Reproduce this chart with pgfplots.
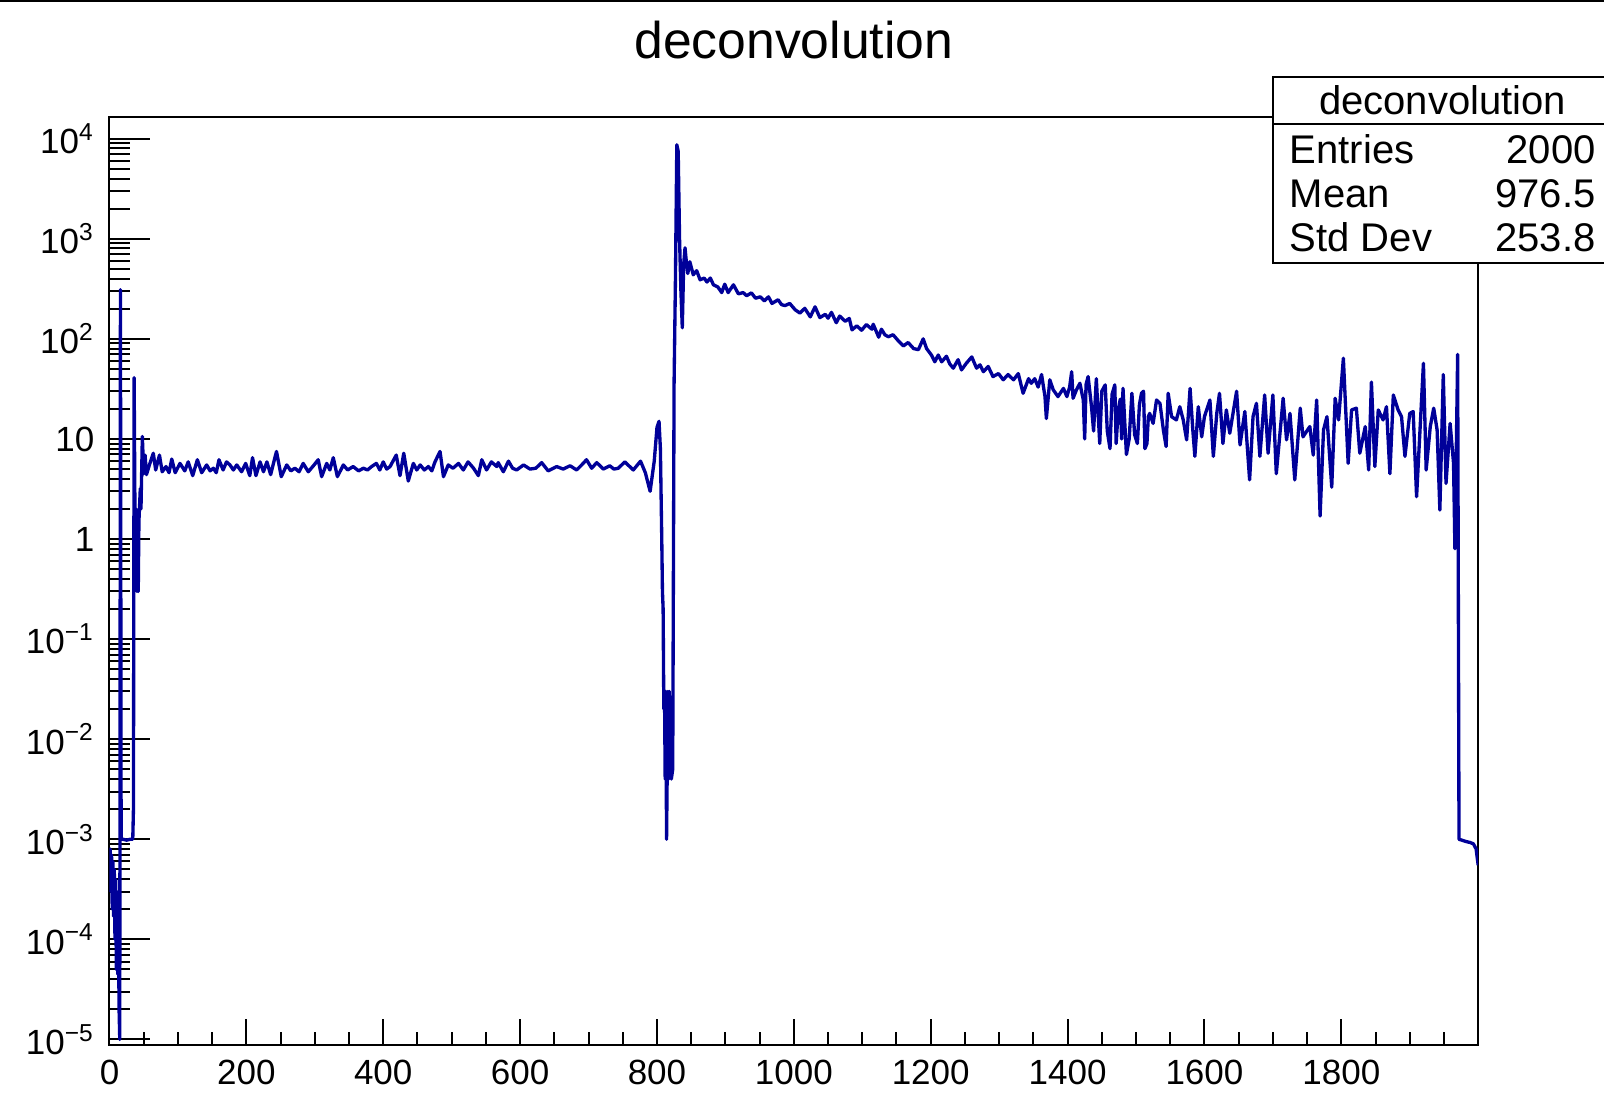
\documentclass[border=0pt]{standalone}
\usepackage{pgfplots}
\pgfplotsset{compat=1.18}
\usepackage{pgfplotstable}
\usepackage{fontspec}
\setmainfont{Liberation Sans}
\definecolor{rootblue}{RGB}{0,0,153}

\pgfplotstableread{
x y
0 6e-4
1 8e-4
2 3e-4
3 7e-4
4 2e-4
5 6e-4
6 1.7e-4
7 5e-4
8 1e-4
9 4e-4
10 5e-5
11 3e-4
12 4.5e-5
13 1.5e-4
14 2e-5
15 1e-5
16 310
17 1e-3
20 1e-3
25 9.8e-4
30 1e-3
34 1e-3
35 2e-3
36 41
37 3
38 0.6
39 2
40 0.3
41 1.2
42 0.3
43 1.5
45 3.2
46 2
48 10.6
50 4.5
52 6.9
54 4.4
59 5.7
64 7.2
67.5 4.9
73 6.9
77 4.7
82.6 5.3
87 4.6
91 6.3
96 4.6
103 5.7
110 4.8
115 5.9
121.6 4.3
128.4 6.2
134.7 4.6
142 5.5
147 4.8
151.8 5.1
156 4.6
160 6.2
166 4.9
171 5.9
176 5.5
181 4.9
186 5.5
193 4.7
199 5.7
205 4.3
209 6.5
214 4.3
220 5.9
225 4.7
230 5.9
235.5 4.4
244 7.5
251 4.2
259 5.5
265 4.8
271 5.1
277 4.7
283 5.7
290.5 4.7
298 5.4
305 6.2
310 4.2
317.4 5.7
322 4.9
327 6.5
333 4.2
341.7 5.5
348 4.9
356 5.3
364 4.8
371 5.1
377 4.9
383 5.3
390 5.7
395 4.9
400 5.9
405 5.0
410 5.3
419 6.9
424.5 4.3
430 7.2
436.6 3.8
444 5.7
449 4.9
454 5.5
460 4.9
466 5.3
471 4.8
475.6 5.9
483 7.5
488 4.2
495 5.5
502 5.1
510 5.7
517 4.9
524 5.9
532 5.1
539 4.3
544 6.2
551 4.9
558 5.9
566 5.3
568 5.8
575.5 4.7
583 6.0
589 5.1
595 4.9
605 5.5
614.5 5.0
623 5.1
631.5 5.8
641 4.8
653.4 5.3
663 5.0
673 5.4
682.6 4.9
690 5.5
697 6.2
704.6 5.1
712 5.8
721.6 5.0
731 5.4
737 5.0
743.5 5.1
753 5.9
765.4 4.9
776 6.0
783 4.6
790 3.0
796 6
800 13
803 15
805 8
807 1
808 0.3
809 0.2
810 0.02
811 0.03
812 0.004
813 0.03
814 0.001
815 0.005
816 0.03
817 0.004
818 0.03
819 0.006
821 0.004
823 0.005
825 36
827 400
829 8700
831 7500
833 1000
835 300
837 129
839 550
841 813
843 580
845 450
848 590
853 437
858 480
863 390
869 405
873 370
878 405
882.5 347
889 330
894.6 290
899 352
904 290
911.7 347
919 282
926 290
931 270
938 288
944 255
951 263
957 240
963 263
968 226
977 246
982 220
987 215
994 226
1002 195
1009 181
1016 202
1024 166
1031 209
1038 163
1046 176
1050 161
1055 184
1062 145
1067 169
1075 150
1081 160
1085 123
1092 135
1099 122
1106 139
1114 125
1116 140
1124 104
1128 125
1133 110
1138 105
1145 110
1153 95
1160 85
1167 92
1175 80
1182 78
1189 100
1194 80
1201 69
1206 59
1211 69
1216 59
1223 67
1228 56
1233 51
1240 62
1245 49
1252 57
1260 66
1267 51
1272 55
1277 47
1284 53
1291 42
1299 45
1306 39
1313 44
1321 39
1328 45
1335 28.6
1343 40
1347 36
1352 40
1357 33
1362 44
1367 26.5
1369 16
1374 39
1379 31
1386 26.5
1394 32
1399 26.5
1403 33
1406 47
1408 25.5
1413 31
1418 36
1423 24.5
1425 10
1427 35
1430 42
1435 21
1438 12
1442 40
1447 9
1450 30
1455 34.7
1458 12
1462 8
1465 28
1469 34.7
1471 9
1474 19.5
1477 25
1479 10
1481 32
1486 7
1490 10
1494 28.6
1498 11
1502 9
1505 22
1508 28.6
1511 30
1513 8
1516 9
1518 16.7
1520 18
1525 14.3
1530 24.5
1535 22.7
1540 12.3
1544 8.4
1547 28.6
1552 16.7
1559 15.5
1564 21
1569 15.5
1574 9.8
1579 32
1583 12.3
1586 6.7
1591 21
1596 10.5
1600 16.7
1608 24.5
1613 6.7
1618 18
1622 28.6
1627 9
1632 19.5
1637 11.4
1647 30
1652 8.7
1659 18.8
1666 3.9
1671 16.7
1676 22.7
1681 6.7
1688 27.5
1693 7.2
1700 27.5
1705 4.5
1715 25.5
1720 9.8
1725 18
1732 3.9
1740 20.3
1744 10.5
1754 13.3
1759 6.9
1764 24.5
1769 1.7
1774 12.3
1779 16.7
1786 3.3
1791 25.5
1796 15.5
1803 64
1810 5.7
1815 19.5
1822 20.3
1827 7.2
1835 13.3
1840 4.9
1844 37
1849 5.3
1854 19.5
1861 15.5
1866 21
1871 4.5
1876 27.5
1883 19.5
1888 16.7
1893 6.7
1900 18
1905 18.8
1910 2.65
1915 12.3
1920 57
1924 4.9
1930 13.3
1935 20.3
1940 12.3
1944 1.95
1949 44
1953 3.6
1959 14.3
1964 5.7
1966 0.8
1970 70
1972 0.001
1976 9.8e-4
1982 9.5e-4
1988 9.3e-4
1993 9e-4
1997 8e-4
2000 5.5e-4
}\deconv

\begin{document}
\begin{tikzpicture}
\useasboundingbox (-32.85pt,-15.15pt) rectangle (448.35pt,313.35pt);
\begin{axis}[
  at={(0,0)}, anchor=south west,
  scale only axis, width=410.6pt, height=278.1pt,
  xmin=0, xmax=2000,
  ymode=log, ymin=8.9e-6, ymax=1.63e4,
  axis line style={line width=0.6pt, black},
  tick align=inside,
  xtick pos=left, ytick pos=left,
  tick style={black, line width=0.6pt},
  xtick style={/pgfplots/major tick length=7.8pt, /pgfplots/minor tick length=3.9pt},
  ytick style={/pgfplots/major tick length=12pt, /pgfplots/minor tick length=6pt},
  xtick={0,200,...,2000},
  xticklabels={0,200,400,600,800,1000,1200,1400,1600,1800,{}},
  minor x tick num=3,
  ytick={1e-5,1e-4,1e-3,1e-2,1e-1,1,10,100,1000,10000},
  yticklabels={10\textsuperscript{−5},10\textsuperscript{−4},10\textsuperscript{−3},10\textsuperscript{−2},10\textsuperscript{−1},1,10,10\textsuperscript{2},10\textsuperscript{3},10\textsuperscript{4}},
  minor ytick={2e-5,3e-5,4e-5,5e-5,6e-5,7e-5,8e-5,9e-5,
    2e-4,3e-4,4e-4,5e-4,6e-4,7e-4,8e-4,9e-4,
    2e-3,3e-3,4e-3,5e-3,6e-3,7e-3,8e-3,9e-3,
    2e-2,3e-2,4e-2,5e-2,6e-2,7e-2,8e-2,9e-2,
    0.2,0.3,0.4,0.5,0.6,0.7,0.8,0.9,
    2,3,4,5,6,7,8,9,
    20,30,40,50,60,70,80,90,
    200,300,400,500,600,700,800,900,
    2000,3000,4000,5000,6000,7000,8000,9000},
  ticklabel style={font=\fontsize{10.5}{12}\selectfont},
  xticklabel style={yshift=-1pt},
  yticklabel style={xshift=-1pt},
]
\addplot[rootblue, line width=1pt, line join=round] table {\deconv};
\end{axis}
\node[anchor=base, font=\fontsize{15.5}{18}\selectfont] at (205.3pt,295.7pt) {deconvolution};
\draw[line width=0.6pt, fill=white] (349.05pt,234.45pt) rectangle (449.5pt,290.3pt);
\draw[line width=0.6pt] (349.05pt,276.15pt) -- (449.5pt,276.15pt);
\begin{scope}[every node/.style={font=\fontsize{12}{14}\selectfont, inner sep=0pt}]
\node[anchor=base] at (399.9pt,279pt) {deconvolution};
\node[anchor=base west] at (353.9pt,264.2pt) {Entries};
\node[anchor=base east] at (446pt,264.2pt) {2000};
\node[anchor=base west] at (353.9pt,251pt) {Mean};
\node[anchor=base east] at (446pt,251pt) {976.5};
\node[anchor=base west] at (353.9pt,237.8pt) {Std Dev};
\node[anchor=base east] at (446pt,237.8pt) {253.8};
\end{scope}
\draw[line width=1.2pt] (-32.85pt,313.35pt) -- (448.35pt,313.35pt);
\end{tikzpicture}
\end{document}
